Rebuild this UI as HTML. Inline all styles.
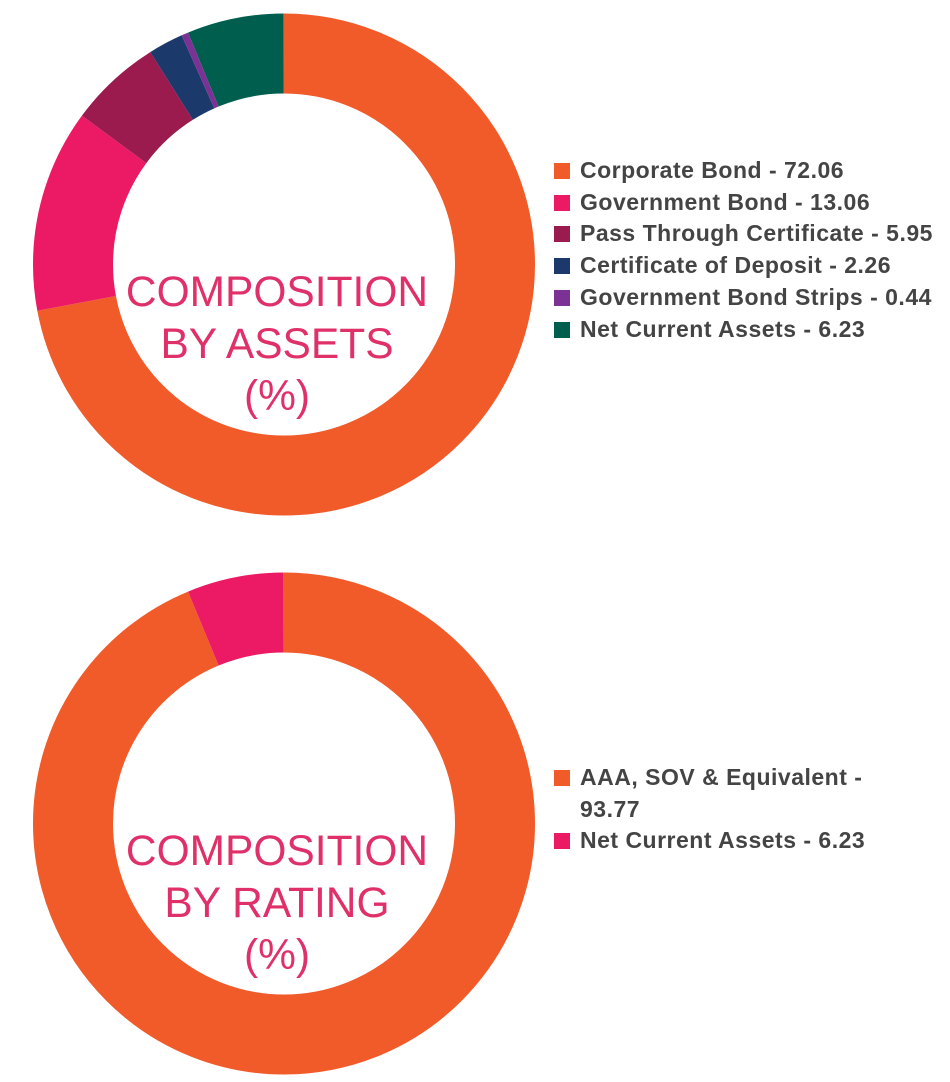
<!DOCTYPE html>
<html><head><meta charset="utf-8"><style>
body{margin:0;background:#fff;width:950px;height:1082px;overflow:hidden;font-family:"Liberation Sans",sans-serif}
.leg{position:absolute;left:554px;font-size:23px;font-weight:bold;color:#444;line-height:31.7px;letter-spacing:0.5px}
.leg div{position:relative;padding-left:26px;white-space:nowrap}
.leg span{position:absolute;left:0;top:8px;width:16px;height:16px}
.ct{position:absolute;left:77px;width:400px;text-align:center;color:#e0306a;font-size:42.5px;line-height:52px}
</style></head><body>
<svg width="950" height="1082" style="position:absolute;left:0;top:0">
<g transform="rotate(-90 284 264.5)" fill="none" stroke-width="80">
<circle cx="284" cy="264.5" r="211" pathLength="100" stroke="#f15a29" stroke-dasharray="72.06 100" stroke-dashoffset="0"/>
<circle cx="284" cy="264.5" r="211" pathLength="100" stroke="#ec1a64" stroke-dasharray="13.06 100" stroke-dashoffset="-72.06"/>
<circle cx="284" cy="264.5" r="211" pathLength="100" stroke="#9b1b4e" stroke-dasharray="5.95 100" stroke-dashoffset="-85.12"/>
<circle cx="284" cy="264.5" r="211" pathLength="100" stroke="#1b3a6b" stroke-dasharray="2.26 100" stroke-dashoffset="-91.07"/>
<circle cx="284" cy="264.5" r="211" pathLength="100" stroke="#7b3294" stroke-dasharray="0.44 100" stroke-dashoffset="-93.33"/>
<circle cx="284" cy="264.5" r="211" pathLength="100" stroke="#005e4e" stroke-dasharray="6.23 100" stroke-dashoffset="-93.77"/>
</g>
<g transform="rotate(-90 284 823.5)" fill="none" stroke-width="80">
<circle cx="284" cy="823.5" r="211" pathLength="100" stroke="#f15a29" stroke-dasharray="93.77 100" stroke-dashoffset="0"/>
<circle cx="284" cy="823.5" r="211" pathLength="100" stroke="#ec1a64" stroke-dasharray="6.23 100" stroke-dashoffset="-93.77"/>
</g>
</svg>
<div class="ct" style="top:267px">COMPOSITION<br>BY ASSETS<br>(%)</div>
<div class="ct" style="top:826px">COMPOSITION<br>BY RATING<br>(%)</div>
<div class="leg" style="top:155px">
<div><span style="background:#f15a29"></span>Corporate Bond - 72.06</div>
<div><span style="background:#ec1a64"></span>Government Bond - 13.06</div>
<div><span style="background:#9b1b4e"></span>Pass Through Certificate - 5.95</div>
<div><span style="background:#1b3a6b"></span>Certificate of Deposit - 2.26</div>
<div><span style="background:#7b3294"></span>Government Bond Strips - 0.44</div>
<div><span style="background:#005e4e"></span>Net Current Assets - 6.23</div>
</div>
<div class="leg" style="top:762px">
<div><span style="background:#f15a29"></span>AAA, SOV &amp; Equivalent -<br>93.77</div>
<div><span style="background:#ec1a64"></span>Net Current Assets - 6.23</div>
</div>
</body></html>
